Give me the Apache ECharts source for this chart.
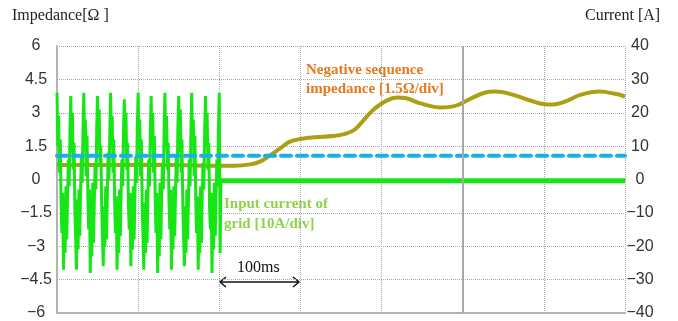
<!DOCTYPE html>
<html>
<head>
<meta charset="utf-8">
<script src="https://cdn.jsdelivr.net/npm/echarts@6/dist/echarts.min.js"></script>
<style>
  html, body { margin: 0; padding: 0; background: #fff; }
  #chart { width: 678px; height: 321px; }
</style>
</head>
<body>
<div id="chart"></div>
<script>
const chart = echarts.init(document.getElementById('chart'));

// time axis in ms, 100ms per division
const timeTicks = [0, 100, 200, 300, 400, 500, 600, 700];

// negative sequence impedance [ohm] (left axis)
const impTime = [0, 53, 115, 200, 219, 238, 250, 262, 275, 287, 300, 318, 340, 355, 367, 382, 392, 404, 419, 429, 444, 460, 472, 490, 509, 527, 540, 558, 583, 601, 611, 626, 645, 669, 688, 700];
const impValue = [0.65, 0.65, 0.66, 0.62, 0.62, 0.68, 0.8, 1.07, 1.4, 1.7, 1.82, 1.9, 1.95, 2.05, 2.25, 2.84, 3.2, 3.5, 3.68, 3.66, 3.47, 3.3, 3.24, 3.3, 3.62, 3.9, 3.95, 3.85, 3.55, 3.38, 3.37, 3.5, 3.8, 3.95, 3.85, 3.73];

// reference impedance level (blue dashed)
const refLevel = 1.07;

// input current of grid [A] (right axis), 1 ms steps from 0 to 201 ms
const curBurst = [
  26, 10, 19, 2, 12, -6, -16, -4, -27, -10, -22, -2, -18, -5, 6, -2, 15,
  25, 8, 20, 3, 11, -8, -18, -27, -6, -21, -3, -17, -4, 7, -1, 14,
  26, 11, 18, 1, 13, -5, -15, -3, -28, -9, -23, -1, -19, -6, 5, -3, 16,
  25, 9, 21, 4, 10, -7, -17, -26, -8, -20, -2, -18, -5, 8, 0, 13,
  26, 12, 19, 2, 12, -6, -16, -5, -27, -11, -22, -3, -17, -4, 6, -2, 15,
  24, 10, 20, 3, 11, -7, -15, -4, -26, -10, -21, -2, -18, -5, 7, -1, 16,
  26, 9, 18, 1, 12, -8, -17, -27, -7, -22, -3, -19, -6, 6, -2, 14,
  25, 11, 20, 2, 13, -5, -16, -4, -28, -9, -23, -1, -18, -4, 5, -3, 15,
  26, 10, 19, 3, 11, -6, -15, -3, -27, -10, -21, -2, -17, -5, 7, -1, 16,
  25, 8, 21, 2, 12, -7, -17, -26, -8, -22, -3, -18, -6, 6, -2, 14,
  26, 11, 18, 1, 13, -6, -16, -5, -27, -10, -22, -2, -19, -4, 5, -3, 15,
  25, 10, 20, 3, 11, -8, -15, -4, -28, -9, -21, -1, -17, -5, 6, -2, 16,
  26, -22, -0.4
];
// after the burst the current stays near zero
const curTailTime = [202, 700];
const curTailValue = [-0.4, -0.4];

const impData = impTime.map((t, i) => [t, impValue[i]]);
const curData = curBurst.map((v, i) => [i, v]);
const tailData = curTailTime.map((t, i) => [t, curTailValue[i]]);

const minus = v => String(v).replace('-', '\u2212');
const serif = '"Liberation Serif", "Times New Roman", serif';
const sans = '"Liberation Sans", Arial, sans-serif';
const green = '#16e616';

const option = {
  animation: false,
  grid: { left: 57, right: 53, top: 46, bottom: 5 },
  xAxis: [
    {
      type: 'value', min: 0, max: 700, interval: 100,
      axisLine: { show: true, onZero: false, lineStyle: { color: '#b3b3b3', width: 2 } },
      axisTick: { show: false },
      axisLabel: { show: false },
      splitLine: { show: true, lineStyle: { color: '#aaa', type: 'dotted', width: 1 } }
    },
    {
      type: 'value', min: 0, max: 700, position: 'top',
      axisLine: { show: true, lineStyle: { color: '#b3b3b3', width: 2 } },
      axisTick: { show: false },
      axisLabel: { show: false },
      splitLine: { show: false }
    }
  ],
  yAxis: [
    {
      type: 'value', min: -6, max: 6, interval: 1.5,
      axisLine: { show: true, onZero: false, lineStyle: { color: '#b3b3b3', width: 2 } },
      axisTick: { show: false },
      axisLabel: { align: 'center', margin: 21, color: '#333', fontSize: 16, fontFamily: sans, formatter: minus },
      splitLine: { show: true, lineStyle: { color: '#aaa', type: 'dotted', width: 1 } }
    },
    {
      type: 'value', min: -40, max: 40, interval: 10, position: 'right',
      axisLine: { show: false },
      axisTick: { show: false },
      axisLabel: { align: 'center', margin: 15, color: '#333', fontSize: 16, fontFamily: sans, formatter: minus },
      splitLine: { show: false }
    }
  ],
  series: [
    {
      name: 'Negative sequence impedance',
      type: 'line',
      yAxisIndex: 0,
      data: impData,
      smooth: 0.4,
      showSymbol: false,
      z: 2,
      lineStyle: { color: '#ab9f14', width: 4 },
      markLine: {
        silent: true,
        symbol: 'none',
        label: { show: false },
        lineStyle: { color: '#a8a8a8', type: 'solid', width: 2 },
        data: [{ xAxis: 500 }]
      }
    },
    {
      name: 'Input current of grid',
      type: 'line',
      yAxisIndex: 1,
      data: curData,
      showSymbol: false,
      z: 3,
      lineStyle: { color: green, width: 3 }
    },
    {
      name: 'Input current (steady)',
      type: 'line',
      yAxisIndex: 1,
      data: tailData,
      showSymbol: false,
      z: 3,
      lineStyle: { color: green, width: 5 }
    },
    {
      name: 'Reference',
      type: 'line',
      yAxisIndex: 0,
      data: [[timeTicks[0], refLevel], [timeTicks[timeTicks.length - 1], refLevel]],
      showSymbol: false,
      z: 4,
      lineStyle: { color: '#1aaee6', width: 4, type: [10, 6], cap: 'round' }
    }
  ],
  graphic: [
    { type: 'text', left: 12, top: 8, style: { text: 'Impedance[Ω ]', font: '16px ' + serif, fill: '#222' } },
    { type: 'text', left: 585, top: 8, style: { text: 'Current [A]', font: '16px ' + serif, fill: '#222' } },
    { type: 'text', left: 306, top: 61, style: { text: 'Negative sequence\nimpedance [1.5Ω/div]', font: 'bold 15px ' + serif, fill: '#e6781e', lineHeight: 19 } },
    { type: 'text', left: 224, top: 194, style: { text: 'Input current of\ngrid [10A/div]', font: 'bold 15px ' + serif, fill: '#8fd24c', lineHeight: 20 } },
    { type: 'text', left: 237, top: 260, style: { text: '100ms', font: '16px ' + serif, fill: '#111' } },
    { type: 'line', shape: { x1: 220, y1: 282, x2: 299, y2: 282 }, style: { stroke: '#111', lineWidth: 1.5 } },
    { type: 'polyline', shape: { points: [[226, 277], [220, 282], [226, 287]] }, style: { stroke: '#111', lineWidth: 1.5, fill: null } },
    { type: 'polyline', shape: { points: [[293, 277], [299, 282], [293, 287]] }, style: { stroke: '#111', lineWidth: 1.5, fill: null } }
  ]
};

chart.setOption(option);
</script>
</body>
</html>
